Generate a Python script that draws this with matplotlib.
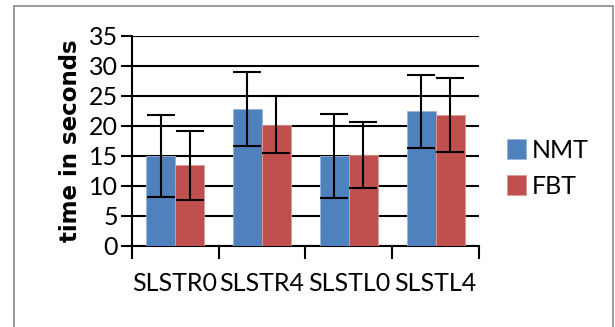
import matplotlib
matplotlib.use('Agg')
import matplotlib.pyplot as plt
from matplotlib.patches import Rectangle
import numpy as np

categories = ['SLSTR0', 'SLSTR4', 'SLSTL0', 'SLSTL4']
nmt = [15.0, 22.8, 14.9, 22.4]
nmt_err = [6.8, 6.2, 7.0, 6.1]
fbt = [13.4, 20.2, 15.2, 21.8]
fbt_err = [5.8, 4.8, 5.5, 6.2]
yticks = [0, 5, 10, 15, 20, 25, 30, 35]

blue = '#4f81bd'
red = '#c0504d'

plt.rcParams['font.family'] = ['Lato', 'DejaVu Sans']

fig = plt.figure(figsize=(6.15, 3.27), dpi=100)
ax = fig.add_axes([0.2141, 0.2486, 0.7789 - 0.2141, 0.8908 - 0.2486])

x = np.arange(len(categories))
w = 0.334
err_kw = dict(ecolor='black', elinewidth=1.5, capsize=10, capthick=1.5)
ax.bar(x - w / 2, nmt, w, color=blue, edgecolor='#9db6d8', linewidth=0.6,
       yerr=nmt_err, error_kw=err_kw, label='NMT', zorder=3)
ax.bar(x + w / 2, fbt, w, color=red, edgecolor='#dc9a98', linewidth=0.6,
       yerr=fbt_err, error_kw=err_kw, label='FBT', zorder=3)

ax.set_xlim(-0.5, len(categories) - 0.5)
ax.set_ylim(0, 35)
ax.set_yticks(yticks)
ax.yaxis.grid(True, color='black', linewidth=1.5, zorder=0)
ax.set_axisbelow(True)
ax.tick_params(axis='y', length=8, width=1.5, color='black', pad=2,
               labelsize=18)

# category boundaries as major ticks, labels on minor ticks
ax.set_xticks(np.arange(-0.5, len(categories), 1.0))
ax.set_xticklabels([])
ax.set_xticks(x, minor=True)
ax.set_xticklabels(categories, minor=True)
ax.tick_params(axis='x', which='major', length=9, width=1.5, color='black')
ax.tick_params(axis='x', which='minor', length=0, pad=19, labelsize=18)

for s in ['top', 'right']:
    ax.spines[s].set_visible(False)
for s in ['left', 'bottom']:
    ax.spines[s].set_linewidth(1.5)
    ax.spines[s].set_color('black')

ax.set_ylabel('time in seconds', fontsize=16.5, fontweight='bold',
              family='DejaVu Sans', labelpad=5)

fig.legend(loc='upper left', bbox_to_anchor=(506.7 / 615, 1 - 139 / 327),
           frameon=False, fontsize=18, handlelength=0.78, handleheight=0.86,
           handletextpad=0.23, labelspacing=0.5, borderpad=0, borderaxespad=0)

# outer frame
fig.patches.append(Rectangle((14.3 / 615, -0.1), (613.3 - 14.3) / 615,
                             1.1 - 5.7 / 327, transform=fig.transFigure,
                             fill=False, edgecolor='#8a8a8a', linewidth=1.2))

fig.savefig('out.png', dpi=100)
